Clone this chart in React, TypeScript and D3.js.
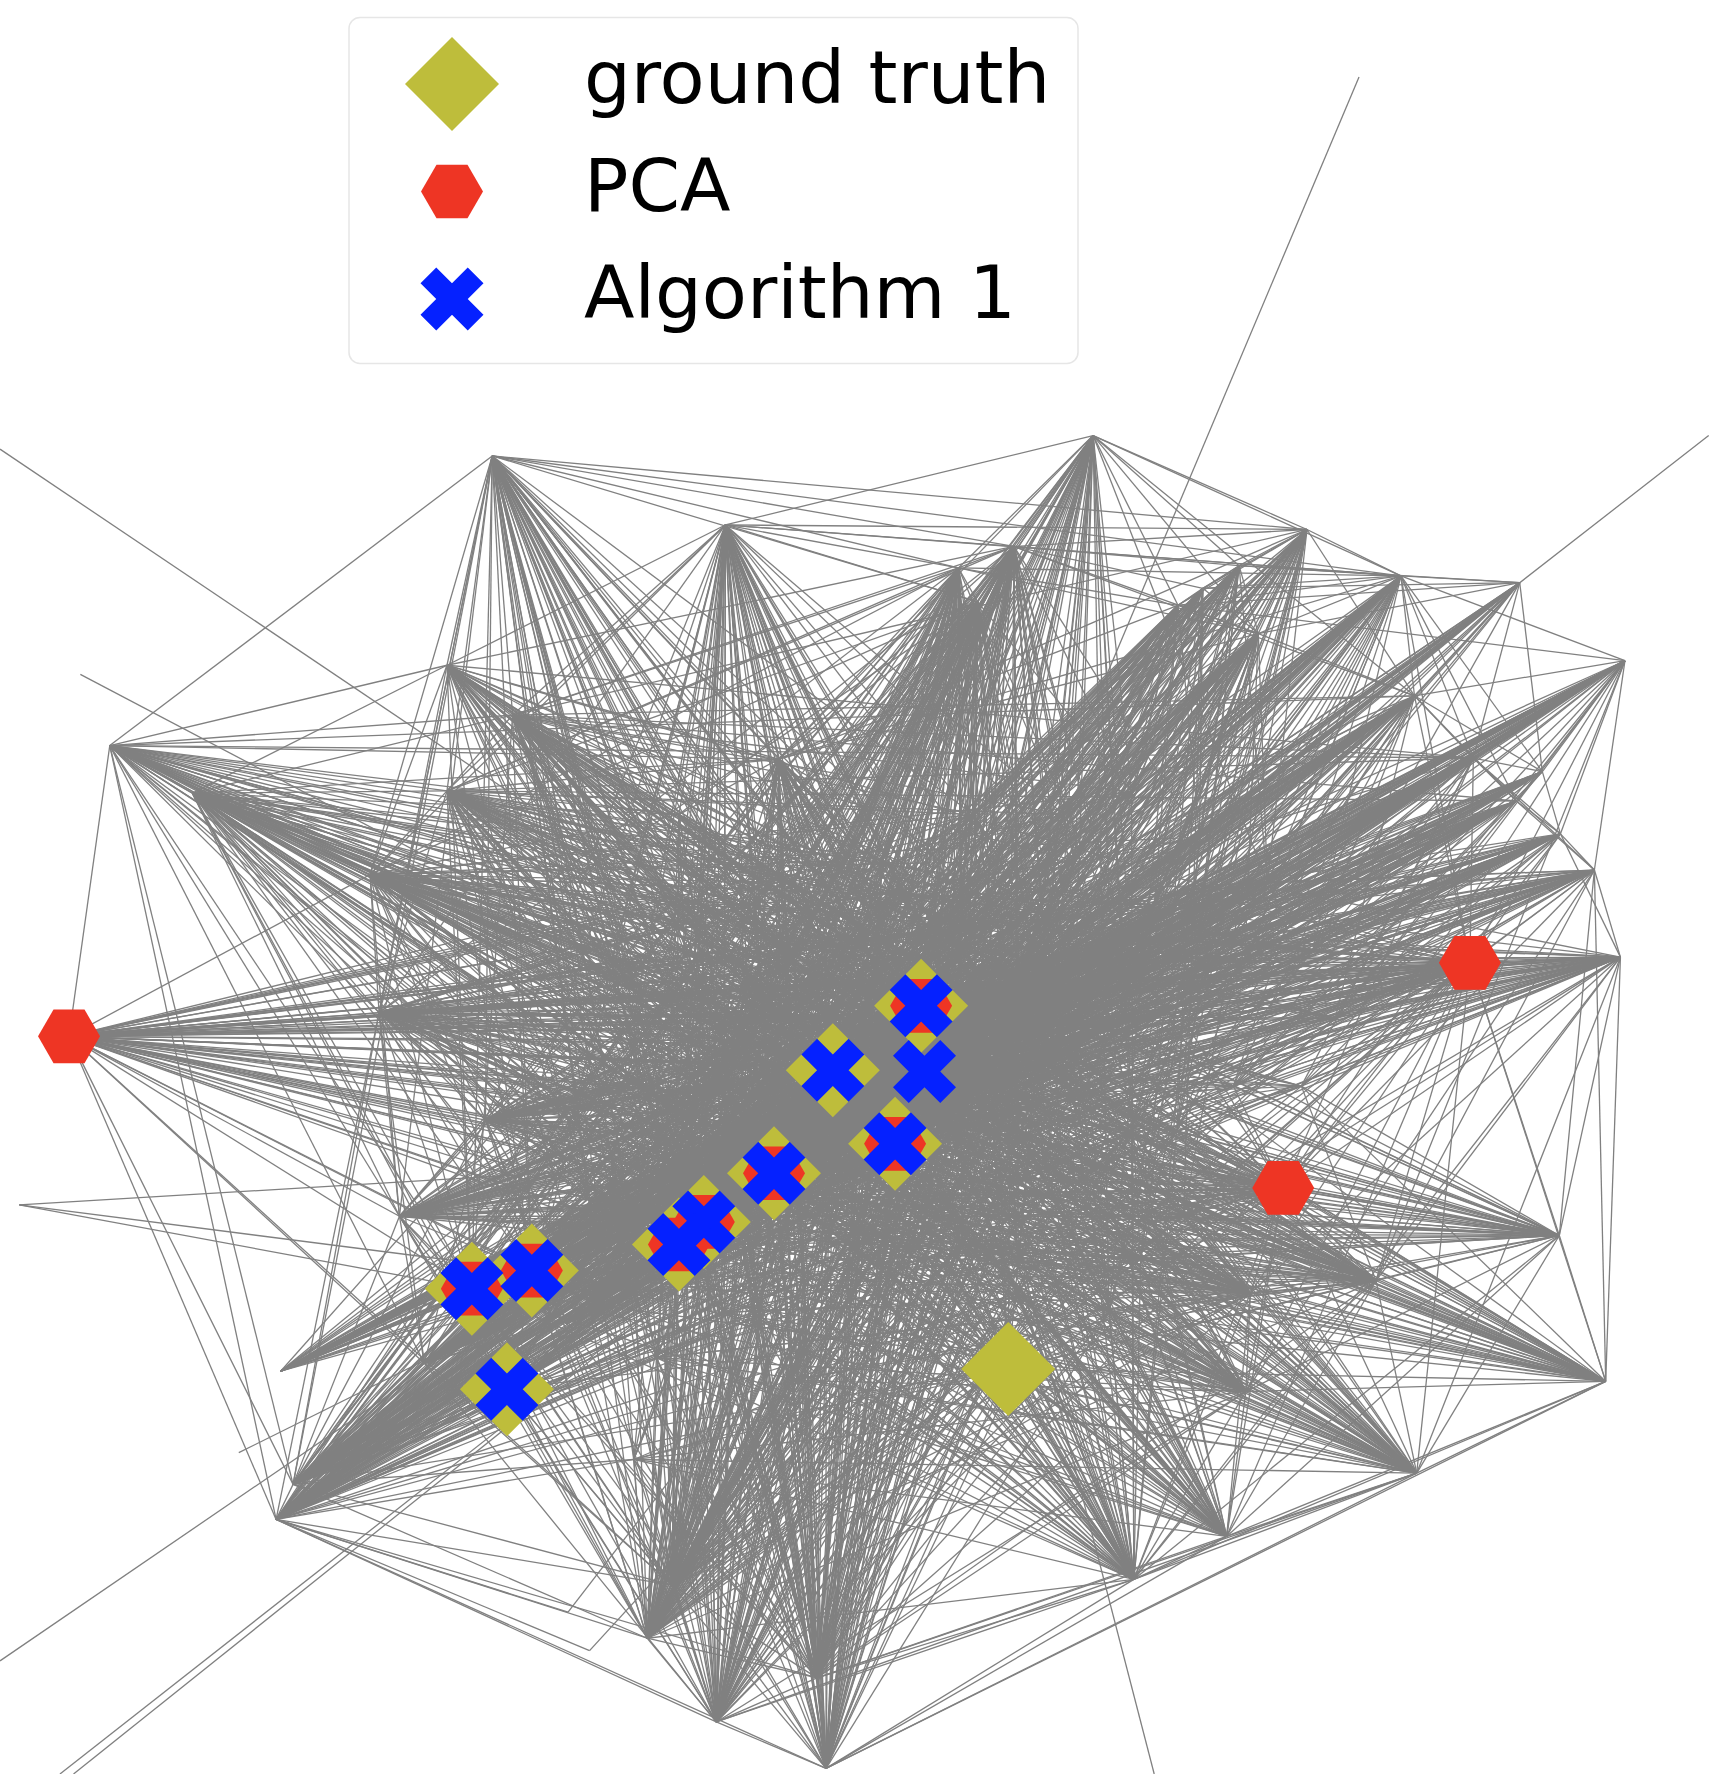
import * as d3 from "d3";

const WIDTH = 1720;
const HEIGHT = 1774;

// node positions, in a 1520 x 1568 layout space
const nodeX = [
  417, 470, 448, 600, 622, 684, 791, 736, 814, 817, 891, 520, 560, 650, 700, 600, 690, 760, 860, 850, 900, 950, 1000,
  1060, 930, 985, 1040, 760, 700, 640, 840, 900, 780, 850, 920, 980, 1008, 1046, 760, 850, 940, 660, 1090, 540, 620,
  435, 966, 641, 896, 847, 1155, 1238, 1343, 1436, 1095, 1041, 1112, 864, 1063, 395, 453, 97, 170, 395, 688, 327, 1250,
  1302, 1363, 1340, 1379, 1409, 1432, 1299, 61, 335, 1134, 1378, 1216, 1105, 1101, 1419, 1252, 1084, 1002, 259, 244,
  572, 594, 633, 722, 730, 353, 429, 375, 248, 1201, 1510, 0, 71, 17, 211, 0, 53, 65, 1020, 502, 521,
  560, 620, 700, 780, 860, 940, 1000, 1060, 1120, 1160, 1180, 1100, 1020, 950, 880, 800, 730, 660, 580, 520, 480, 540,
  470, 600, 520, 780, 700, 640, 580, 520, 700, 800, 900, 980, 1040, 1100, 1150, 1000, 950, 820, 560, 660,
  500, 540, 580, 630, 670, 720, 770, 810, 880, 930, 990, 1040, 1100,
];
const nodeY = [
  1139, 1123, 1228, 1100, 1080, 1037, 1011, 946, 889, 947, 1210, 1150, 1085, 1060, 1060, 1030, 1000, 980, 950, 900,
  860, 870, 850, 830, 925, 905, 890, 900, 900, 960, 1000, 1000, 850, 820, 800, 790, 1113, 1075, 1090, 1100, 1040, 860,
  960, 1020, 880, 403, 385, 464, 483, 502, 468, 509, 515, 584, 500, 535, 560, 532, 520, 588, 632, 659, 701, 699, 671,
  773, 615, 670, 682, 708, 737, 769, 846, 851, 916, 895, 1050, 1092, 1132, 1143, 1230, 1221, 1302, 1358, 1396, 1312,
  1343, 1448, 1401, 1522, 1483, 1563, 1075, 990, 1205, 1212, 68, 385, 397, 596, 1065, 1284, 1468, 1568, 1568, 1568,
  1425, 1459,
  900, 800, 780, 760, 720, 720, 700, 740, 780, 840, 900, 850, 800, 760, 780, 800, 830, 920, 970, 1060, 960, 850,
  870, 720, 760, 1120, 1140, 1160, 1200, 1250, 1220, 1200, 1120, 1160, 1000, 1020, 960, 1000, 1090, 1060, 1290, 1280,
  1170, 1110, 1060, 1020, 1000, 980, 930, 920, 880, 850, 830, 800, 780,
];

// neighbours of each node, every edge listed once
const adjacency: Record<number, number[]> = {
  0: [3, 4, 5, 6, 7, 8, 9, 13, 14, 17, 18, 19, 20, 21, 22, 24, 25, 26],
  1: [3, 4, 5, 6, 7, 8, 9, 13, 14, 17, 18, 19, 20, 21, 22, 23, 24, 25, 26],
  2: [3, 5, 8, 9, 14, 17, 18, 19, 21, 24],
  3: [5, 6, 7, 8, 9, 17, 18, 19, 20, 21, 22, 23, 24, 25],
  4: [6, 7, 8, 9, 17, 18, 19, 20, 21, 22, 24, 25, 26],
  5: [7, 8, 9, 18, 19, 20, 21, 22, 23, 24, 25, 26],
  6: [8, 20, 21, 22, 23, 24, 25],
  7: [18, 19, 20, 21, 22, 23, 25, 26],
  11: [13, 16, 17, 19, 20, 21, 22, 24],
  12: [16, 17, 19, 20, 22],
  45: [61, 50, 51, 48, 49, 57, 64, 65, 63, 60, 59, 75, 92, 93, 0, 1, 3, 4, 5, 7, 8, 9, 6, 12, 15, 16, 17, 18, 19, 20, 27, 28, 29, 32, 41, 44, 43, 13, 14, 30, 38, 39, 36, 85, 86, 87, 88, 90, 84, 21, 24, 31, 10],
  46: [50, 51, 48, 49, 57, 47, 55, 54, 56, 8, 9, 7, 5, 4, 3, 1, 0, 2, 6, 10, 17, 18, 19, 20, 21, 22, 24, 27, 32, 33, 34, 35, 16, 29, 14, 13, 12, 11, 30, 31, 36, 90, 89, 87, 85, 86, 64, 66],
  47: [48, 49, 57, 50, 51, 64, 60, 63, 59, 75, 65, 93, 0, 1, 2, 3, 4, 5, 6, 7, 8, 9, 10, 11, 12, 14, 15, 16, 17, 18, 19, 21, 24, 27, 28, 29, 30, 31, 32, 33, 38, 39, 40, 41, 44, 83, 84, 80, 88, 87, 90],
  48: [49, 57, 50, 51, 54, 58, 56, 64, 60, 63, 59, 66, 0, 1, 2, 3, 4, 5, 6, 7, 8, 9, 10, 11, 12, 13, 15, 16, 17, 18, 19, 20, 21, 22, 24, 25, 27, 28, 29, 30, 31, 32, 33, 34, 35, 38, 39, 40, 85, 86, 87, 89, 90, 91, 84, 94, 95],
  49: [57, 64, 55, 56, 51, 60, 63, 65, 75, 0, 1, 2, 3, 4, 5, 6, 7, 8, 9, 10, 11, 12, 14, 15, 16, 17, 18, 19, 20, 24, 27, 28, 29, 30, 32, 33, 38, 39, 85, 86, 87, 88, 89, 90, 91, 92, 93, 41, 43],
  50: [51, 54, 55, 56, 58, 66, 8, 9, 7, 6, 5, 4, 3, 1, 0, 19, 20, 21, 22, 23, 24, 25, 26, 34, 35, 33, 30, 85, 86, 95, 87, 64, 60, 36, 37],
  51: [52, 53, 54, 55, 56, 58, 66, 67, 68, 0, 1, 2, 3, 4, 5, 7, 8, 9, 11, 12, 13, 14, 16, 17, 18, 19, 20, 21, 22, 23, 24, 25, 26, 27, 33, 34, 35, 85, 86, 94, 95, 89, 42, 64, 69, 73],
  52: [66, 67, 54, 55, 58, 56, 19, 20, 21, 22, 23, 25, 26, 35, 34, 8, 9, 7, 5, 3, 1, 0, 11, 85, 86, 12, 4, 17, 68],
  53: [70, 71, 66, 67, 68, 69, 73, 23, 22, 21, 20, 19, 24, 25, 26, 8, 9, 7, 6, 5, 4, 3, 1, 0, 2, 11, 12, 13, 14, 17, 18, 85, 86, 94, 95, 42, 35, 55, 76, 78],
  54: [55, 56, 58, 19, 20, 22, 23, 8, 9, 7, 5, 3, 1, 0, 24, 18, 17, 13, 12, 11, 85, 86, 87, 30, 36, 16],
  55: [56, 58, 0, 1, 3, 4, 5, 7, 8, 9, 11, 12, 14, 16, 17, 18, 19, 20, 21, 27, 28, 29, 32, 30, 64, 85, 86, 38, 39],
  56: [58, 66, 0, 1, 2, 3, 4, 5, 6, 7, 8, 9, 11, 12, 13, 14, 15, 16, 17, 18, 19, 20, 21, 22, 24, 25, 27, 30, 31, 38, 40, 85, 86, 87, 88, 94, 95, 93, 64],
  57: [64, 0, 1, 2, 3, 4, 5, 6, 7, 8, 9, 10, 11, 12, 13, 14, 15, 16, 17, 18, 19, 21, 22, 24, 27, 28, 29, 30, 31, 32, 33, 34, 38, 39, 40, 41, 44, 85, 86, 88, 89, 90, 91, 92, 93, 94, 75, 65, 63],
  58: [0, 1, 3, 4, 5, 7, 8, 9, 12, 13, 16, 17, 18, 19, 20, 24, 85, 86, 29, 30, 36, 37],
  59: [61, 62, 65, 75, 64, 0, 1, 3, 4, 5, 6, 7, 8, 9, 10, 17, 18, 19, 20, 21, 22, 24, 27, 28, 29, 32, 33, 36, 37, 38, 39, 40, 41, 44, 82, 78, 84, 83, 73, 67],
  60: [61, 62, 63, 64, 0, 1, 3, 4, 5, 6, 7, 8, 9, 10, 13, 14, 16, 17, 18, 19, 20, 21, 24, 25, 27, 28, 30, 31, 32, 33, 38, 39, 40, 36, 37, 76, 78, 79, 80, 83, 84, 82, 66, 67, 69, 73],
  61: [62, 63, 65, 64, 74, 75, 92, 94, 85, 86, 41, 44, 43, 28, 29, 15, 12, 3, 4, 5, 7, 9, 8, 6, 16, 17, 18, 19, 24, 27, 30, 31, 21, 32, 38, 40, 36, 66, 67, 78, 79, 88],
  62: [63, 64, 65, 75, 92, 93, 0, 1, 2, 3, 4, 5, 6, 7, 8, 9, 10, 11, 12, 13, 14, 15, 16, 17, 18, 19, 24, 27, 28, 29, 30, 31, 36, 38, 39, 40, 41, 43, 44, 79, 76, 78, 83, 84, 87],
  63: [64, 65, 75, 0, 1, 3, 4, 5, 6, 7, 8, 9, 10, 11, 13, 14, 15, 16, 17, 18, 19, 20, 21, 22, 24, 25, 27, 28, 29, 30, 31, 32, 33, 34, 36, 37, 38, 39, 40, 42, 73, 76, 78, 79, 67, 69],
  64: [0, 1, 3, 4, 5, 6, 7, 8, 9, 10, 12, 13, 14, 16, 17, 18, 19, 20, 22, 24, 27, 30, 31, 36, 37, 38, 39, 40, 85, 86, 82, 83, 84, 87, 88, 90, 91, 79],
  65: [75, 92, 93, 0, 1, 3, 4, 5, 6, 7, 8, 9, 10, 11, 13, 14, 16, 17, 18, 19, 20, 21, 22, 24, 25, 26, 27, 28, 30, 31, 36, 37, 38, 39, 40, 42, 73, 76, 78, 79, 80, 82, 83, 84, 77, 81],
  66: [67, 68, 69, 0, 1, 2, 3, 4, 5, 6, 7, 8, 9, 11, 12, 13, 14, 15, 16, 17, 18, 19, 20, 21, 22, 23, 24, 25, 26, 27, 28, 85, 86, 94, 95, 92, 42, 73],
  67: [68, 69, 70, 71, 73, 0, 1, 3, 4, 5, 7, 8, 9, 11, 12, 13, 14, 16, 17, 18, 19, 20, 21, 22, 23, 24, 25, 26, 85, 86, 95, 2, 94, 76, 42],
  68: [69, 70, 0, 1, 3, 4, 5, 8, 9, 12, 13, 17, 18, 19, 21, 23, 24, 26, 85, 86, 95, 42],
  69: [70, 71, 0, 1, 2, 3, 4, 5, 6, 7, 8, 9, 11, 12, 13, 14, 17, 18, 19, 21, 22, 23, 24, 25, 26, 31, 42, 85, 86, 94, 95],
  70: [71, 72, 73, 76, 0, 1, 3, 4, 5, 6, 7, 8, 9, 11, 12, 13, 14, 17, 18, 19, 21, 22, 23, 24, 25, 26, 30, 31, 40, 42, 85, 86, 92, 95, 15, 16],
  71: [72, 73, 76, 77, 81, 0, 1, 3, 4, 6, 7, 8, 9, 12, 13, 16, 17, 18, 19, 21, 22, 23, 24, 25, 26, 30, 31, 42, 40, 85, 86, 93, 92, 75, 29, 78, 80],
  72: [73, 76, 77, 81, 78, 0, 1, 3, 5, 6, 7, 8, 9, 11, 13, 16, 17, 18, 19, 20, 21, 22, 23, 24, 25, 26, 28, 30, 31, 36, 37, 38, 40, 42, 15, 29, 75, 93, 92, 79, 82, 84],
  73: [76, 77, 78, 79, 80, 81, 82, 83, 0, 1, 2, 3, 4, 5, 6, 7, 8, 9, 10, 11, 12, 13, 14, 15, 16, 17, 18, 19, 20, 21, 22, 23, 24, 25, 26, 27, 29, 30, 31, 36, 37, 38, 39, 40, 42, 85, 86, 75, 92, 93, 87, 88, 89, 90],
  74: [75, 92, 93, 94, 85, 86, 65, 0, 1, 3, 4, 5, 6, 7, 8, 9, 10, 11, 12, 13, 14, 15, 16, 17, 18, 19, 20, 21, 22, 24, 25, 26, 27, 28, 29, 30, 31, 32, 33, 36, 37, 38, 40, 41, 43, 44, 42, 73, 76, 88],
  75: [92, 93, 94, 85, 0, 1, 3, 4, 5, 6, 7, 8, 9, 10, 11, 12, 13, 14, 15, 16, 17, 18, 19, 20, 21, 22, 24, 25, 27, 28, 30, 31, 36, 38, 39, 40, 42, 76, 78, 79, 80, 82, 84],
  76: [77, 78, 79, 80, 81, 82, 0, 1, 2, 3, 4, 5, 6, 7, 8, 9, 10, 11, 13, 14, 15, 16, 17, 18, 19, 20, 21, 22, 24, 25, 26, 27, 30, 31, 36, 37, 38, 39, 40, 42, 83, 84, 88, 92, 93],
  77: [78, 79, 80, 81, 82, 0, 1, 3, 4, 5, 6, 7, 8, 9, 10, 13, 14, 16, 17, 18, 19, 21, 24, 25, 30, 31, 36, 37, 38, 39, 40, 42, 83, 84, 15, 28, 29, 93],
  78: [79, 80, 81, 82, 83, 84, 0, 1, 2, 3, 4, 5, 6, 7, 8, 9, 10, 12, 13, 14, 15, 16, 17, 18, 19, 20, 21, 24, 27, 28, 29, 30, 31, 36, 37, 38, 39, 40, 41, 44, 90, 88],
  79: [80, 82, 83, 84, 0, 1, 3, 4, 5, 6, 7, 8, 9, 10, 13, 14, 16, 17, 18, 19, 20, 24, 27, 28, 29, 30, 31, 36, 37, 38, 39, 40, 41, 90, 87, 88],
  80: [81, 82, 83, 84, 0, 1, 3, 4, 5, 6, 7, 8, 9, 14, 15, 16, 17, 18, 19, 20, 24, 27, 28, 29, 30, 31, 36, 38, 39, 40, 44, 87, 89, 90],
  81: [82, 83, 84, 91, 1, 3, 5, 6, 7, 8, 9, 10, 13, 14, 16, 17, 18, 19, 24, 27, 29, 30, 31, 36, 37, 38, 39, 40, 15, 28, 41, 44],
  82: [83, 84, 90, 91, 89, 0, 1, 3, 4, 5, 6, 7, 8, 9, 10, 13, 14, 15, 16, 17, 18, 19, 20, 24, 27, 28, 29, 30, 31, 32, 36, 37, 38, 39, 40, 41, 43, 44],
  83: [84, 91, 90, 0, 1, 3, 4, 5, 6, 7, 8, 9, 10, 14, 15, 16, 17, 18, 19, 24, 27, 28, 29, 30, 31, 32, 36, 38, 39, 40, 41, 43, 44],
  84: [89, 90, 91, 87, 0, 1, 3, 4, 5, 6, 7, 8, 9, 10, 12, 14, 15, 16, 17, 18, 19, 20, 27, 28, 29, 30, 31, 32, 33, 36, 38, 39, 40, 41, 43, 44],
  85: [86, 94, 92, 93, 0, 1, 2, 3, 4, 5, 6, 7, 8, 9, 11, 12, 13, 14, 15, 16, 17, 18, 19, 20, 21, 22, 23, 24, 25, 26, 27, 28, 29, 30, 31, 33, 34, 35, 38, 39, 40, 10, 87, 88, 42],
  86: [87, 89, 91, 0, 1, 2, 3, 4, 5, 6, 7, 8, 9, 10, 11, 12, 13, 14, 16, 17, 18, 19, 20, 21, 22, 23, 24, 25, 26, 30, 31, 38, 39, 40, 36, 37, 88, 90, 106, 107, 42, 33, 34],
  87: [88, 89, 90, 0, 1, 2, 3, 4, 5, 6, 7, 8, 9, 10, 11, 12, 13, 14, 15, 16, 17, 18, 19, 20, 21, 24, 25, 27, 28, 29, 30, 31, 32, 33, 34, 36, 37, 38, 39, 40, 41, 43, 44, 92, 93],
  88: [89, 90, 2, 0, 1, 3, 4, 5, 6, 7, 8, 9, 10, 13, 14, 15, 16, 17, 18, 19, 20, 21, 24, 27, 28, 29, 30, 31, 32, 33, 36, 37, 38, 39, 40, 41, 43, 44, 92, 93, 94],
  89: [90, 91, 0, 1, 2, 3, 5, 6, 7, 8, 9, 10, 11, 13, 14, 15, 16, 17, 18, 19, 20, 24, 27, 28, 29, 30, 31, 32, 33, 38, 39, 41, 43, 44, 92, 93, 94],
  90: [91, 0, 1, 3, 4, 5, 6, 7, 8, 9, 10, 11, 13, 14, 15, 16, 17, 18, 19, 20, 21, 24, 27, 28, 29, 30, 31, 32, 33, 34, 38, 39, 41, 43, 44, 93, 92],
  91: [0, 1, 2, 3, 4, 5, 6, 7, 8, 9, 10, 13, 14, 15, 16, 17, 18, 19, 20, 21, 24, 27, 28, 29, 30, 31, 32, 33, 34, 38, 39, 40, 41, 43, 44],
  92: [93, 94, 0, 1, 2, 3, 4, 5, 6, 7, 8, 9, 12, 13, 14, 15, 16, 17, 18, 19, 20, 21, 22, 23, 24, 25, 26, 27, 29, 30, 31, 33, 34, 35, 36, 37, 38, 40, 42],
  93: [94, 3, 4, 5, 6, 7, 8, 9, 10, 13, 14, 16, 17, 18, 19, 20, 21, 22, 23, 24, 25, 26, 27, 30, 31, 32, 33, 34, 35, 36, 37, 38, 40, 42],
  94: [0, 1, 3, 4, 5, 7, 8, 9, 12, 13, 14, 16, 17, 18, 19, 20, 21, 22, 23, 24, 25, 26, 30, 33, 34, 38],
  95: [1, 3, 4, 5, 7, 8, 12, 14, 16, 17, 18, 19, 20, 21, 22, 24, 25, 33],
  96: [19],
  97: [20],
  98: [9],
  99: [7],
  100: [1, 0, 15],
  101: [4],
  102: [12],
  103: [14],
  104: [14],
  105: [18],
  106: [38],
  107: [39],
};

// the middle of the graph, hidden in the grey mass in the picture
const interiorAdjacency: Record<number, number[]> = {
  108: [45, 47, 48, 57, 61, 62, 74, 75, 65, 63, 60, 59, 66, 67, 70, 72, 73, 76, 77, 78, 79, 81, 82, 83, 84, 86, 85, 88, 90],
  109: [45, 47, 48, 49, 61, 62, 63, 60, 59, 74, 65, 84, 83, 82, 78, 79, 80, 76, 73, 72, 71, 87, 88, 89, 90, 91, 81, 77],
  110: [47, 48, 45, 46, 59, 60, 63, 65, 62, 61, 74, 75, 81, 82, 83, 84, 80, 78, 87, 88, 89, 90, 91, 86, 77, 76, 73],
  111: [46, 48, 49, 57, 47, 45, 60, 63, 59, 65, 62, 74, 75, 87, 88, 89, 90, 91, 84, 83, 82, 81, 86, 85, 92, 93, 76, 79],
  112: [46, 48, 49, 57, 54, 55, 45, 47, 60, 63, 65, 74, 87, 88, 89, 90, 91, 84, 83, 82, 85, 86, 92, 93, 75, 79, 80],
  113: [46, 48, 49, 50, 54, 55, 58, 56, 47, 60, 63, 74, 87, 88, 89, 90, 91, 84, 83, 85, 86, 92, 93, 75, 94],
  114: [46, 50, 51, 54, 55, 58, 56, 48, 57, 60, 74, 65, 87, 88, 89, 90, 84, 85, 86, 92, 93, 94, 95, 75],
  115: [50, 51, 54, 56, 55, 58, 52, 66, 48, 74, 75, 65, 87, 88, 89, 90, 84, 85, 86, 92, 93, 94, 95],
  116: [51, 52, 53, 54, 56, 66, 67, 68, 46, 50, 74, 75, 85, 86, 87, 88, 89, 92, 93, 94, 95, 90],
  117: [52, 53, 66, 67, 68, 69, 70, 51, 61, 62, 74, 65, 75, 85, 86, 87, 88, 92, 93, 94, 95, 89],
  118: [53, 67, 69, 70, 71, 72, 73, 66, 61, 62, 74, 75, 65, 85, 86, 92, 93, 94, 87, 88, 63],
  119: [51, 53, 66, 67, 68, 69, 70, 56, 74, 62, 61, 65, 75, 85, 86, 87, 88, 89, 92, 93, 94, 95],
  120: [50, 51, 53, 54, 56, 58, 66, 67, 74, 61, 65, 75, 85, 86, 87, 88, 89, 90, 92, 93, 94, 95, 55],
  121: [46, 48, 50, 54, 55, 56, 58, 51, 47, 74, 65, 75, 85, 86, 87, 88, 89, 90, 91, 92, 93, 94],
  124: [47, 48, 45, 49, 57, 60, 59, 63, 62, 61, 74, 65, 75, 81, 82, 83, 84, 87, 88, 89, 90, 91, 86, 78, 76, 73],
  125: [45, 47, 48, 60, 59, 61, 62, 63, 74, 65, 75, 73, 76, 77, 78, 79, 81, 82, 83, 84, 87, 88, 89, 90, 91, 72],
  126: [45, 47, 59, 60, 61, 62, 63, 65, 74, 75, 73, 76, 77, 78, 79, 80, 81, 82, 83, 84, 88, 89, 90, 72, 71],
  127: [45, 59, 62, 63, 65, 74, 75, 92, 93, 72, 73, 76, 77, 78, 79, 81, 82, 84, 89, 90, 71, 70, 66],
  129: [45, 47, 59, 60, 61, 62, 63, 64, 65, 74, 75, 72, 76, 78, 79, 80, 81, 82, 83, 84, 89, 90, 91, 71],
  131: [45, 47, 48, 59, 60, 63, 62, 61, 65, 64, 84, 83, 82, 81, 80, 79, 78, 87, 88, 89, 90, 91, 76, 77],
  133: [48, 49, 57, 46, 47, 45, 64, 60, 63, 65, 62, 74, 75, 79, 80, 83, 84, 82, 87, 88, 90, 91, 89, 76, 37],
  135: [45, 47, 48, 57, 64, 60, 63, 65, 62, 76, 78, 79, 80, 82, 83, 84, 86, 87, 89, 90, 91, 55, 56],
  136: [45, 47, 48, 57, 49, 64, 63, 60, 62, 78, 79, 80, 82, 83, 84, 86, 85, 87, 89, 90, 91, 72, 76, 56],
  138: [47, 48, 49, 57, 45, 46, 64, 55, 60, 63, 78, 79, 80, 82, 83, 84, 87, 88, 89, 90, 91, 86, 76],
  140: [46, 48, 49, 57, 47, 64, 55, 56, 60, 65, 75, 77, 78, 79, 80, 81, 82, 83, 84, 87, 88, 90, 91, 74, 62],
  141: [46, 48, 50, 57, 55, 56, 64, 47, 75, 65, 77, 78, 80, 81, 82, 83, 84, 87, 89, 90, 91, 62],
  142: [50, 51, 54, 56, 58, 66, 72, 73, 74, 75, 65, 77, 78, 81, 82, 84, 62, 63, 60, 86, 87, 89, 90, 85],
  144: [53, 67, 70, 71, 72, 73, 74, 75, 65, 77, 78, 81, 62, 61, 85, 86, 87, 94, 95, 92, 93],
  145: [46, 50, 51, 56, 54, 66, 72, 74, 75, 65, 60, 63, 62, 78, 79, 81, 82, 83, 84, 85, 86, 87, 88, 89, 90, 91],
  147: [45, 46, 47, 48, 49, 57, 64, 60, 63, 65, 62, 61, 74, 75, 76, 77, 78, 79, 80, 81, 82, 83, 84, 87, 88, 89, 90, 91, 56, 55],
  148: [47, 48, 57, 45, 64, 49, 78, 79, 80, 82, 83, 84, 85, 86, 87, 89, 90, 91, 76],
  150: [50, 51, 52, 53, 54, 56, 66, 67, 68, 69, 70, 71, 72, 73, 19, 20, 21, 22, 23, 24, 25, 26, 158, 159, 160, 161, 162, 48, 49, 57],
  151: [50, 51, 53, 56, 58, 66, 67, 68, 69, 70, 71, 73, 19, 20, 21, 22, 23, 25, 26, 158, 159, 160, 161, 162, 46, 48, 57, 72],
  152: [51, 52, 53, 54, 56, 66, 67, 69, 70, 71, 72, 73, 85, 86, 95, 94, 19, 20, 22, 23, 25, 158, 159, 160, 161, 162, 46, 48, 49],
  153: [50, 51, 53, 55, 56, 66, 68, 69, 70, 71, 73, 85, 86, 95, 94, 92, 20, 21, 22, 23, 26, 158, 159, 160, 161, 162, 47, 57],
  154: [51, 52, 53, 54, 56, 58, 66, 67, 69, 70, 72, 73, 85, 86, 95, 94, 19, 21, 22, 23, 25, 159, 160, 161, 162, 45, 46, 49],
  155: [50, 51, 53, 55, 56, 66, 67, 68, 70, 71, 73, 85, 86, 95, 94, 92, 0, 1, 11, 12, 21, 22, 23, 26, 160, 161, 162, 47, 48, 87],
  156: [51, 52, 53, 56, 66, 67, 69, 70, 71, 72, 73, 85, 86, 95, 94, 92, 0, 1, 2, 11, 12, 3, 23, 25, 26, 161, 162, 88, 91, 90],
  157: [50, 51, 53, 54, 56, 66, 68, 69, 70, 73, 85, 86, 95, 94, 93, 0, 1, 2, 11, 12, 3, 4, 22, 23, 26, 162, 84, 89, 87],
  158: [51, 53, 56, 66, 67, 69, 71, 72, 73, 85, 86, 95, 94, 92, 93, 0, 1, 2, 11, 12, 4, 5, 13, 87, 88, 89, 90, 91, 74],
  159: [51, 52, 53, 66, 67, 68, 70, 71, 73, 85, 86, 95, 94, 92, 0, 1, 2, 11, 12, 3, 4, 5, 14, 87, 88, 90, 74, 75, 65],
  160: [51, 53, 66, 67, 69, 70, 72, 73, 85, 86, 95, 94, 93, 0, 1, 2, 11, 12, 3, 5, 13, 14, 15, 88, 89, 90, 74, 63, 75],
  161: [52, 53, 66, 68, 69, 71, 72, 73, 85, 86, 95, 94, 92, 0, 1, 2, 3, 4, 12, 13, 14, 15, 16, 87, 89, 91, 74, 65, 62],
  162: [53, 66, 67, 70, 71, 72, 85, 86, 94, 95, 0, 1, 3, 5, 12, 13, 14, 15, 16, 17, 87, 90, 74, 75, 92],
};

// which nodes each method picks
const groundTruthNodes = [8, 7, 6, 5, 4, 3, 1, 0, 2, 10];
const pcaNodes = [8, 6, 5, 4, 3, 1, 0, 73, 74, 76];
const algorithmNodes = [8, 7, 9, 6, 5, 4, 3, 1, 0, 2];

const legendLabels = ["ground truth", "PCA", "Algorithm 1"];

const x = d3.scaleLinear().domain([0, 1520]).range([0, WIDTH]);
const y = d3.scaleLinear().domain([0, 1568]).range([0, HEIGHT]);

const links = [...Object.entries(adjacency), ...Object.entries(interiorAdjacency)].flatMap(([source, targets]) =>
  targets.map((target) => ({ source: +source, target }))
);

// matplotlib's D, H and X markers as d3 symbol types, r is half the width
const diamondType = {
  draw(c: any, r: number) {
    c.moveTo(0, -r);
    c.lineTo(r, 0);
    c.lineTo(0, r);
    c.lineTo(-r, 0);
    c.closePath();
  },
};
const hexagonType = {
  draw(c: any, r: number) {
    const h = r * 0.866;
    c.moveTo(-r, 0);
    c.lineTo(-r / 2, -h);
    c.lineTo(r / 2, -h);
    c.lineTo(r, 0);
    c.lineTo(r / 2, h);
    c.lineTo(-r / 2, h);
    c.closePath();
  },
};
const crossType = {
  draw(c: any, r: number) {
    const u = r / 2;
    c.moveTo(-u, -2 * u);
    c.lineTo(0, -u);
    c.lineTo(u, -2 * u);
    c.lineTo(2 * u, -u);
    c.lineTo(u, 0);
    c.lineTo(2 * u, u);
    c.lineTo(u, 2 * u);
    c.lineTo(0, u);
    c.lineTo(-u, 2 * u);
    c.lineTo(-2 * u, u);
    c.lineTo(-u, 0);
    c.lineTo(-2 * u, -u);
    c.closePath();
  },
};

const diamondPath = d3.symbol(diamondType, 47)() ?? "";
const hexagonPath = d3.symbol(hexagonType, 31)() ?? "";
const crossPath = d3.symbol(crossType, 31.5)() ?? "";

const OLIVE = "#bebd3b";
const RED = "#ee3524";
const BLUE = "#0521ff";

const legendMarkers = [
  { path: diamondPath, fill: OLIVE },
  { path: hexagonPath, fill: RED },
  { path: crossPath, fill: BLUE },
];
const legendY = d3.scalePoint<number>().domain([0, 1, 2]).range([84, 299]);

export default function App() {
  return (
    <svg
      width={WIDTH}
      height={HEIGHT}
      viewBox={`0 0 ${WIDTH} ${HEIGHT}`}
      style={{ position: "absolute", left: 0, top: 0, background: "#fff" }}
    >
      <g stroke="#808080" strokeWidth={1.3}>
        {links.map((d, i) => (
          <line key={i} x1={x(nodeX[d.source])} y1={y(nodeY[d.source])} x2={x(nodeX[d.target])} y2={y(nodeY[d.target])} />
        ))}
      </g>
      {groundTruthNodes.map((n) => (
        <path key={n} d={diamondPath} fill={OLIVE} transform={`translate(${x(nodeX[n])},${y(nodeY[n])})`} />
      ))}
      {pcaNodes.map((n) => (
        <path key={n} d={hexagonPath} fill={RED} transform={`translate(${x(nodeX[n])},${y(nodeY[n])})`} />
      ))}
      {algorithmNodes.map((n) => (
        <path key={n} d={crossPath} fill={BLUE} transform={`translate(${x(nodeX[n])},${y(nodeY[n])})`} />
      ))}
      <g>
        <rect x={349} y={17.5} width={729} height={346} rx={11} fill="#fff" stroke="#e6e6e6" strokeWidth={1.5} />
        {legendLabels.map((label, i) => (
          <g key={label}>
            <path d={legendMarkers[i].path} fill={legendMarkers[i].fill} transform={`translate(452,${legendY(i)})`} />
            <text x={584} y={legendY(i)! + 19} fontFamily="DejaVu Sans" fontSize={73.8} fill="#000">
              {label}
            </text>
          </g>
        ))}
      </g>
    </svg>
  );
}
